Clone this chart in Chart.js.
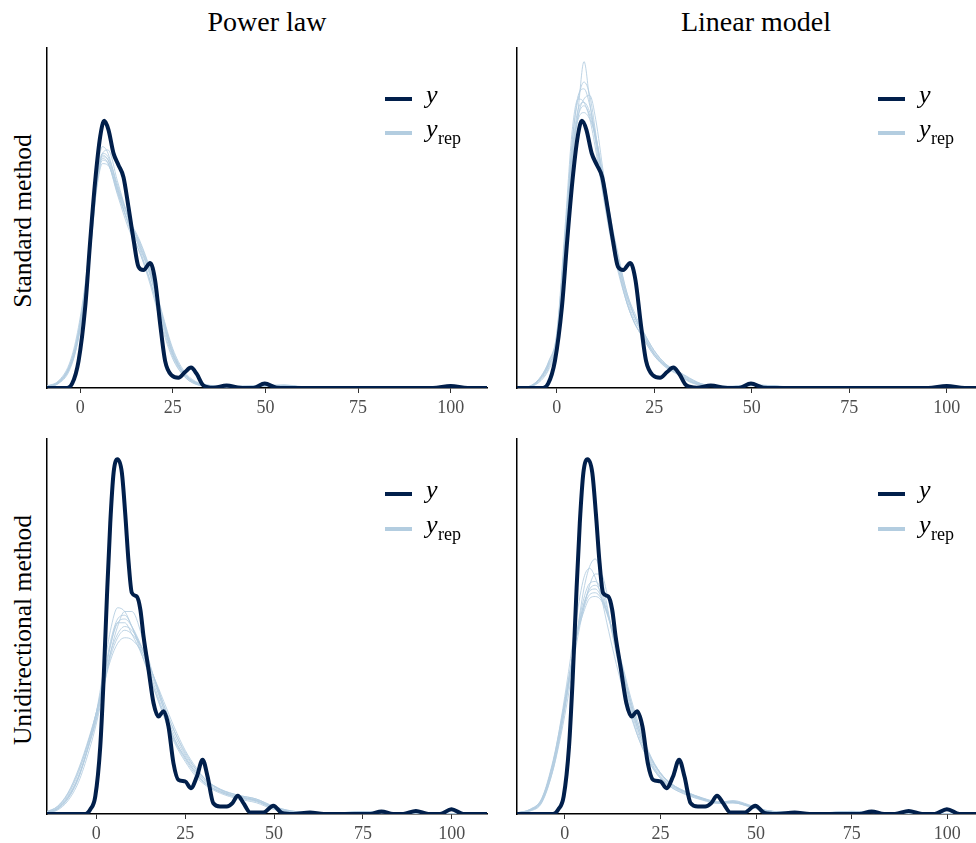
<!DOCTYPE html>
<html>
<head>
<meta charset="utf-8">
<script src="https://cdn.jsdelivr.net/npm/chart.js@4.4.0/dist/chart.umd.min.js"></script>
<style>
  html, body { margin: 0; padding: 0; background: #ffffff; }
  body { width: 976px; height: 843px; position: relative; overflow: hidden; font-family: 'Liberation Serif', 'Times New Roman', serif; color: #000; }
  canvas { position: absolute; }
  .title { position: absolute; font-size: 28px; line-height: 28px; white-space: nowrap; transform: translateX(-50%); }
  .rowlab { position: absolute; font-size: 25.5px; line-height: 26px; white-space: nowrap; transform: translate(-50%, -50%) rotate(-90deg); }
  .lgline { position: absolute; width: 27px; height: 4.5px; }
  .lgy { position: absolute; font-size: 26px; line-height: 26px; font-style: italic; white-space: nowrap; }
  .lgsub { position: absolute; font-size: 18px; line-height: 18px; white-space: nowrap; }
</style>
</head>
<body>
<div class="title" style="left:267px; top:8px;">Power law</div>
<div class="title" style="left:756px; top:8px;">Linear model</div>
<div class="rowlab" style="left:23px; top:221px;">Standard method</div>
<div class="rowlab" style="left:23px; top:630px;">Unidirectional method</div>

<canvas id="p1" width="490" height="390" style="left:0px; top:40px;"></canvas>
<canvas id="p2" width="486" height="390" style="left:490px; top:40px;"></canvas>
<canvas id="p3" width="490" height="413" style="left:0px; top:430px;"></canvas>
<canvas id="p4" width="486" height="413" style="left:490px; top:430px;"></canvas>

<script>
// ---------- DATA ----------
const xTicks = [0, 25, 50, 75, 100];

// observed density (y), top row (Standard method) — shared by both columns
const obsTopX = [-11,-4.0,-2.2,-0.45,1.35,2.7,4.04,5.39,6.47,7.6,8.98,10.3,11.67,13.0,14.4,15.7,17.06,18.86,20.2,21.55,22.9,24.7,26.5,28.3,29.9,31.4,33.2,35.9,39.5,43.1,46.7,49.8,53,59,95.2,100,104.6,110];
const obsTopY = [0,0,0.013,0.08,0.24,0.435,0.61,0.74,0.786,0.76,0.69,0.656,0.62,0.533,0.435,0.357,0.347,0.368,0.317,0.19,0.08,0.037,0.03,0.047,0.06,0.042,0.008,0.001,0.007,0.001,0,0.013,0.001,0,0,0.006,0,0];

// observed density (y), bottom row (Unidirectional method)
const obsBotX = [-14,-3.1,-1.7,-0.28,1.12,2.06,3.0,3.93,4.87,5.99,7.2,8.15,9.1,10.0,11.4,12.4,13.3,14.7,16.1,17.5,18.9,20.3,21.7,23.1,25.0,26.6,28.3,29.9,31.3,32.9,34.8,36.7,38.3,39.8,41.4,43.3,47.0,49.8,52.2,55.4,60.1,64,77,80.2,83.5,86.3,89.9,93.4,96.7,99.9,103.2,110];
const obsBotY = [0,0,0.012,0.047,0.18,0.358,0.58,0.775,0.91,0.946,0.91,0.80,0.67,0.59,0.58,0.545,0.473,0.385,0.296,0.26,0.274,0.234,0.136,0.091,0.087,0.069,0.10,0.145,0.10,0.029,0.02,0.02,0.029,0.049,0.029,0.004,0.004,0.022,0.003,0,0.004,0,0,0.007,0,0,0.008,0,0,0.013,0,0];

// replicated densities (y_rep): Power law / Standard
const repPSX = [-9,-6,-3,-1,1,3,4.5,6,7.5,10,13,16,19,22,25,28,31,35,40,45,50,55,60,70,110];
const repPS = [
  [0.003,0.012,0.05,0.12,0.25,0.46,0.63,0.71,0.69,0.59,0.48,0.40,0.31,0.19,0.09,0.035,0.012,0.005,0.003,0.003,0.005,0.005,0.002,0,0],
  [0.005,0.018,0.065,0.14,0.27,0.47,0.62,0.69,0.68,0.6,0.5,0.42,0.33,0.21,0.1,0.04,0.015,0.006,0.004,0.004,0.007,0.008,0.003,0,0],
  [0.004,0.015,0.06,0.13,0.26,0.45,0.61,0.685,0.67,0.58,0.49,0.43,0.34,0.22,0.11,0.045,0.018,0.007,0.004,0.005,0.006,0.007,0.003,0,0],
  [0.006,0.02,0.07,0.15,0.28,0.46,0.6,0.67,0.66,0.57,0.47,0.40,0.30,0.18,0.085,0.035,0.012,0.005,0.003,0.004,0.006,0.006,0.002,0,0],
  [0.003,0.013,0.055,0.125,0.25,0.44,0.59,0.66,0.655,0.585,0.5,0.435,0.345,0.225,0.115,0.05,0.02,0.008,0.005,0.006,0.008,0.009,0.004,0,0],
  [0.004,0.014,0.055,0.12,0.24,0.43,0.6,0.69,0.7,0.61,0.5,0.41,0.31,0.2,0.095,0.04,0.014,0.006,0.004,0.004,0.006,0.006,0.002,0,0],
  [0.005,0.017,0.062,0.135,0.265,0.455,0.605,0.675,0.662,0.575,0.485,0.415,0.325,0.205,0.1,0.042,0.016,0.006,0.004,0.005,0.007,0.007,0.003,0,0],
  [0.004,0.016,0.058,0.128,0.255,0.448,0.615,0.68,0.672,0.592,0.505,0.425,0.335,0.215,0.105,0.044,0.017,0.007,0.004,0.005,0.006,0.008,0.003,0,0]
];

// y_rep: Linear model / Standard
const repLSX = [-10.5,-7,-4,-2,0,2,4,5.5,7,8.5,10,12,14,16,18,20,22,25,28,31,34,38,45,50,55,62,110];
const repLS = [
  [0,0.003,0.025,0.06,0.13,0.4,0.68,0.82,0.96,0.84,0.72,0.57,0.44,0.34,0.25,0.19,0.15,0.095,0.06,0.04,0.018,0.006,0.004,0.007,0.005,0.001,0],
  [0,0.005,0.032,0.075,0.15,0.43,0.73,0.85,0.9,0.86,0.75,0.59,0.45,0.34,0.25,0.19,0.155,0.1,0.065,0.045,0.022,0.008,0.004,0.009,0.007,0.001,0],
  [0,0.003,0.022,0.055,0.12,0.36,0.66,0.8,0.85,0.86,0.79,0.63,0.48,0.36,0.27,0.21,0.17,0.11,0.07,0.05,0.028,0.01,0.005,0.008,0.006,0.001,0],
  [0,0.005,0.035,0.08,0.16,0.45,0.76,0.85,0.84,0.79,0.7,0.56,0.43,0.33,0.25,0.19,0.15,0.095,0.062,0.042,0.02,0.007,0.004,0.007,0.006,0.001,0],
  [0,0.004,0.03,0.07,0.14,0.41,0.7,0.82,0.84,0.81,0.74,0.61,0.47,0.36,0.27,0.21,0.165,0.105,0.068,0.05,0.03,0.009,0.004,0.008,0.007,0.002,0],
  [0,0.004,0.028,0.065,0.135,0.4,0.69,0.8,0.83,0.8,0.73,0.6,0.48,0.37,0.28,0.21,0.16,0.1,0.066,0.046,0.024,0.008,0.005,0.009,0.006,0.001,0],
  [0,0.005,0.034,0.078,0.155,0.42,0.69,0.79,0.81,0.79,0.74,0.62,0.49,0.38,0.28,0.22,0.17,0.11,0.07,0.048,0.026,0.009,0.004,0.008,0.006,0.001,0],
  [0,0.004,0.03,0.07,0.14,0.42,0.72,0.86,0.88,0.83,0.74,0.58,0.45,0.35,0.26,0.2,0.16,0.1,0.064,0.044,0.02,0.007,0.004,0.008,0.006,0.001,0]
];

// y_rep: Power law / Unidirectional
const repPUX = [-14,-11,-8,-5,-2,0,2,4,6,8,10,13,16,19,22,25,28,31,35,40,45,50,55,60,65,75,85,110];
const repPU = [
  [0.003,0.012,0.04,0.095,0.19,0.27,0.38,0.49,0.55,0.54,0.5,0.42,0.34,0.26,0.19,0.14,0.1,0.075,0.055,0.04,0.03,0.012,0.005,0.003,0.002,0.004,0.001,0],
  [0.002,0.01,0.035,0.085,0.17,0.24,0.33,0.43,0.5,0.54,0.54,0.47,0.37,0.28,0.2,0.15,0.11,0.08,0.06,0.045,0.035,0.015,0.006,0.003,0.002,0.005,0.002,0],
  [0.004,0.014,0.044,0.1,0.19,0.26,0.36,0.46,0.52,0.53,0.5,0.43,0.35,0.27,0.2,0.15,0.11,0.08,0.058,0.044,0.036,0.016,0.006,0.003,0.002,0.005,0.002,0],
  [0.005,0.017,0.05,0.11,0.2,0.27,0.36,0.45,0.51,0.52,0.5,0.44,0.36,0.28,0.21,0.155,0.115,0.085,0.062,0.046,0.038,0.018,0.007,0.003,0.002,0.006,0.002,0],
  [0.006,0.019,0.054,0.115,0.2,0.27,0.35,0.43,0.48,0.5,0.49,0.44,0.37,0.29,0.22,0.16,0.12,0.09,0.065,0.05,0.04,0.02,0.008,0.004,0.002,0.006,0.002,0],
  [0.004,0.015,0.046,0.1,0.185,0.25,0.34,0.42,0.47,0.49,0.48,0.44,0.37,0.29,0.22,0.165,0.12,0.088,0.064,0.048,0.036,0.016,0.006,0.003,0.002,0.005,0.002,0],
  [0.006,0.02,0.056,0.12,0.205,0.27,0.34,0.41,0.455,0.47,0.465,0.43,0.37,0.3,0.23,0.17,0.125,0.09,0.066,0.05,0.04,0.02,0.008,0.004,0.002,0.006,0.002,0],
  [0.003,0.013,0.042,0.097,0.185,0.255,0.35,0.45,0.51,0.51,0.48,0.42,0.34,0.265,0.195,0.145,0.105,0.078,0.058,0.043,0.033,0.014,0.005,0.003,0.002,0.004,0.002,0]
];

// y_rep: Linear model / Unidirectional
const repLUX = [-12.5,-9,-6,-3,-1,1,3,5,6.5,8,9.5,11,13,15,17,19,22,25,28,32,36,40,44,48,52,58,65,75,85,110];
const repLU = [
  [0.002,0.008,0.03,0.12,0.22,0.34,0.47,0.6,0.66,0.68,0.64,0.56,0.45,0.36,0.28,0.21,0.14,0.095,0.07,0.05,0.037,0.028,0.03,0.02,0.009,0.003,0.002,0.005,0.002,0],
  [0.003,0.012,0.04,0.14,0.25,0.38,0.52,0.63,0.655,0.63,0.58,0.51,0.42,0.34,0.27,0.21,0.14,0.095,0.07,0.052,0.038,0.03,0.03,0.021,0.01,0.004,0.002,0.006,0.002,0],
  [0.002,0.009,0.032,0.12,0.21,0.32,0.45,0.55,0.61,0.64,0.64,0.59,0.49,0.39,0.3,0.23,0.15,0.1,0.075,0.056,0.04,0.03,0.034,0.024,0.011,0.004,0.002,0.006,0.002,0],
  [0.003,0.011,0.037,0.135,0.235,0.35,0.47,0.56,0.6,0.61,0.59,0.54,0.46,0.38,0.3,0.23,0.155,0.105,0.078,0.057,0.042,0.032,0.033,0.023,0.01,0.004,0.002,0.007,0.002,0],
  [0.002,0.01,0.036,0.13,0.23,0.35,0.47,0.56,0.595,0.6,0.58,0.54,0.47,0.39,0.31,0.24,0.16,0.11,0.08,0.058,0.042,0.031,0.031,0.022,0.01,0.004,0.002,0.006,0.002,0],
  [0.003,0.012,0.04,0.14,0.24,0.36,0.47,0.55,0.585,0.59,0.575,0.54,0.47,0.39,0.31,0.24,0.16,0.108,0.078,0.056,0.04,0.03,0.036,0.025,0.011,0.004,0.002,0.006,0.002,0],
  [0.003,0.013,0.042,0.145,0.245,0.36,0.47,0.54,0.575,0.58,0.57,0.535,0.47,0.4,0.32,0.25,0.165,0.11,0.08,0.058,0.043,0.033,0.032,0.022,0.01,0.004,0.002,0.007,0.002,0],
  [0.002,0.01,0.034,0.125,0.225,0.345,0.475,0.575,0.615,0.62,0.6,0.55,0.46,0.37,0.29,0.22,0.145,0.098,0.073,0.054,0.04,0.03,0.03,0.021,0.01,0.004,0.002,0.005,0.002,0]
];

// x-axis ranges per panel
const xRangeP1 = [-8.98, 109.8];
const xRangeP2 = [-10.18, 107.5];
const xRangeP3 = [-13.86, 109.9];
const xRangeP4 = [-12.48, 107.5];

// ---------- STYLE ----------
const DARK = '#011f4b';
const LIGHT = '#b3cde0';
const FONT = "'Liberation Serif', 'Times New Roman', serif";

function pts(xs, ys) { return xs.map((x, i) => ({ x: x, y: ys[i] })); }

function makePanel(id, range, obsX, obsY, repX, reps, layout) {
  const datasets = [{
    label: 'y',
    data: pts(obsX, obsY),
    borderColor: DARK,
    borderWidth: 4,
    borderCapStyle: 'round',
    borderJoinStyle: 'round',
    cubicInterpolationMode: 'monotone',
    pointRadius: 0,
    fill: false
  }];
  reps.forEach((r, k) => {
    datasets.push({
      label: 'y_rep ' + (k + 1),
      data: pts(repX, r),
      borderColor: 'rgba(179,205,224,0.85)',
      borderWidth: 1,
      cubicInterpolationMode: 'monotone',
      pointRadius: 0,
      fill: false
    });
  });
  new Chart(document.getElementById(id), {
    type: 'line',
    data: { datasets: datasets },
    options: {
      responsive: false,
      animation: false,
      events: [],
      layout: { padding: { top: layout.padTop, right: layout.padRight, left: 0, bottom: 0 } },
      plugins: { legend: { display: false }, tooltip: { enabled: false }, title: { display: false } },
      elements: { point: { radius: 0 } },
      scales: {
        x: {
          type: 'linear',
          min: range[0],
          max: range[1],
          afterBuildTicks: s => { s.ticks = xTicks.map(v => ({ value: v })); },
          afterFit: s => { s.height = layout.xAxisH; },
          grid: { display: true, drawOnChartArea: false, drawTicks: true, tickLength: 5, color: '#333333', lineWidth: 1 },
          border: { display: true, color: '#000000', width: 1.5 },
          ticks: { autoSkip: false, maxRotation: 0, minRotation: 0, padding: 4, color: '#4d4d4d', font: { family: FONT, size: 18 } }
        },
        y: {
          type: 'linear',
          min: 0,
          max: 1,
          afterFit: s => { s.width = layout.yAxisW; },
          ticks: { display: false },
          grid: { display: false },
          border: { display: true, color: '#000000', width: 1.5 }
        }
      }
    }
  });
}

makePanel('p1', xRangeP1, obsTopX, obsTopY, repPSX, repPS, { padTop: 8, padRight: 3, yAxisW: 47, xAxisH: 42 });
makePanel('p2', xRangeP2, obsTopX, obsTopY, repLSX, repLS, { padTop: 8, padRight: 0, yAxisW: 27, xAxisH: 42 });
makePanel('p3', xRangeP3, obsBotX, obsBotY, repPUX, repPU, { padTop: 9, padRight: 3, yAxisW: 47, xAxisH: 29 });
makePanel('p4', xRangeP4, obsBotX, obsBotY, repLUX, repLU, { padTop: 9, padRight: 0, yAxisW: 27, xAxisH: 29 });

// ---------- LEGENDS (HTML text) ----------
const legendPos = [
  { x: 385, y1: 99, y2: 133 },
  { x: 878, y1: 99, y2: 133 },
  { x: 385, y1: 494, y2: 529 },
  { x: 878, y1: 494, y2: 529 }
];
legendPos.forEach(p => {
  const mk = (cls, css, html) => {
    const d = document.createElement('div');
    d.className = cls;
    Object.assign(d.style, css);
    if (html !== undefined) d.innerHTML = html;
    document.body.appendChild(d);
  };
  mk('lgline', { left: p.x + 'px', top: (p.y1 - 2.25) + 'px', background: DARK });
  mk('lgline', { left: p.x + 'px', top: (p.y2 - 2.25) + 'px', background: LIGHT });
  mk('lgy', { left: (p.x + 41) + 'px', top: (p.y1 - 17) + 'px' }, 'y');
  mk('lgy', { left: (p.x + 41) + 'px', top: (p.y2 - 17) + 'px' }, 'y');
  mk('lgsub', { left: (p.x + 53) + 'px', top: (p.y2 - 4) + 'px' }, 'rep');
});
</script>
</body>
</html>
